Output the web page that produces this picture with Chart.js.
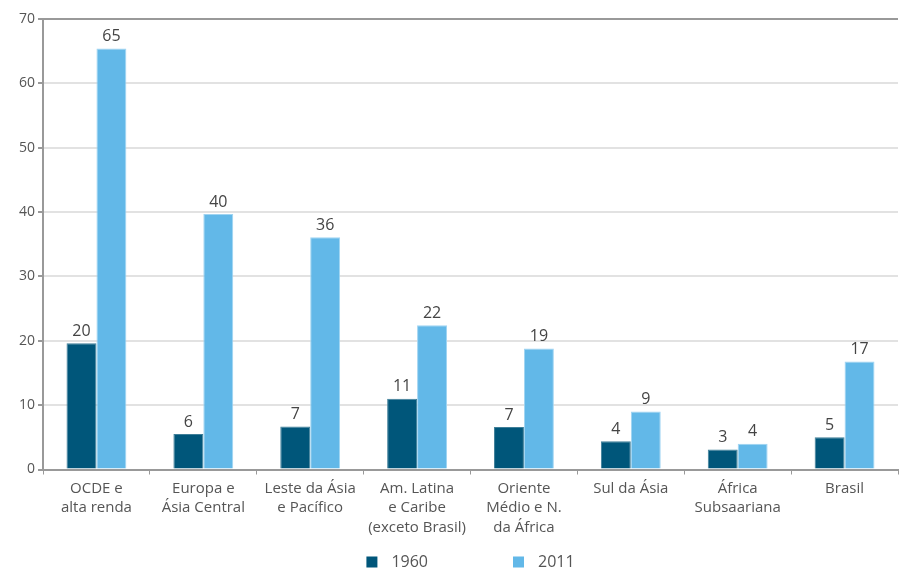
<!DOCTYPE html>
<html>
<head>
<meta charset="utf-8">
<script src="https://cdn.jsdelivr.net/npm/chart.js@4/dist/chart.umd.min.js"></script>
<style>
  html, body { margin: 0; padding: 0; background: #fff; }
  #wrap { width: 899px; height: 569px; }
</style>
</head>
<body>
<div id="wrap"><canvas id="mainChart"></canvas></div>
<script>
// data
var regions = [
  ["OCDE e", "alta renda"],
  ["Europa e", "Ásia Central"],
  ["Leste da Ásia", "e Pacífico"],
  ["Am. Latina", "e Caribe", "(exceto Brasil)"],
  ["Oriente", "Médio e N.", "da África"],
  ["Sul da Ásia"],
  ["África", "Subsaariana"],
  ["Brasil"]
];
var years = ["1960", "2011"];
var values1960 = [19.6, 5.5, 6.7, 11.0, 6.6, 4.4, 3.1, 5.0];
var values2011 = [65.4, 39.7, 36.1, 22.4, 18.8, 9.0, 4.0, 16.8];
var yTicks = [0, 10, 20, 30, 40, 50, 60, 70];

var fontFamily = "'Open Sans', 'DejaVu Sans', sans-serif";
var textColor = '#555';

// numbers above each bar
var valueLabels = {
  id: 'valueLabels',
  afterDatasetsDraw: function(chart) {
    var ctx = chart.ctx;
    ctx.save();
    ctx.font = '16px ' + fontFamily;
    ctx.fillStyle = '#444';
    ctx.textAlign = 'center';
    ctx.textBaseline = 'bottom';
    chart.data.datasets.forEach(function(ds, i) {
      chart.getDatasetMeta(i).data.forEach(function(bar, j) {
        ctx.fillText(Math.round(ds.data[j]), bar.x, bar.y - 4);
      });
    });
    ctx.restore();
  }
};

// legend drawn at the bottom, wide gap between the two items
var bottomLegend = {
  id: 'bottomLegend',
  afterDraw: function(chart) {
    var ctx = chart.ctx;
    var area = chart.chartArea;
    var box = 11, gapText = 14, gapItem = 85;
    ctx.save();
    ctx.font = '16px ' + fontFamily;
    ctx.textBaseline = 'middle';
    var widths = chart.data.datasets.map(function(ds) {
      return box + gapText + ctx.measureText(ds.label).width;
    });
    var total = widths.reduce(function(a, b) { return a + b; }, 0) + gapItem * (widths.length - 1);
    var x = (area.left + area.right) / 2 - total / 2;
    var y = 562;
    chart.data.datasets.forEach(function(ds, i) {
      ctx.fillStyle = ds.backgroundColor;
      ctx.fillRect(x, y - box / 2, box, box);
      ctx.fillStyle = textColor;
      ctx.fillText(ds.label, x + box + gapText, y);
      x += widths[i] + gapItem;
    });
    ctx.restore();
  }
};

var ctx = document.getElementById('mainChart').getContext('2d');
var chart = new Chart(ctx, {
  type: 'bar',
  data: {
    labels: regions,
    datasets: [{
      label: years[0],
      data: values1960,
      backgroundColor: '#00567a',
      borderColor: '#3f7f99',
      borderWidth: 1,
      barPercentage: 1,
      categoryPercentage: 0.56
    }, {
      label: years[1],
      data: values2011,
      backgroundColor: '#62b8e8',
      borderColor: '#9fd4f2',
      borderWidth: 1,
      barPercentage: 1,
      categoryPercentage: 0.56
    }]
  },
  options: {
    responsive: true,
    maintainAspectRatio: false,
    animation: false,
    layout: { padding: { left: 16, right: 1, top: 19, bottom: 28 } },
    plugins: {
      legend: { display: false },
      tooltip: { enabled: false }
    },
    scales: {
      x: {
        offset: true,
        border: { color: '#999', width: 2 },
        grid: { display: true, drawOnChartArea: false, drawTicks: true, tickLength: 5, color: '#999', offset: true },
        ticks: {
          color: textColor,
          font: { family: fontFamily, size: 15, lineHeight: 1.3 },
          maxRotation: 0,
          autoSkip: false,
          padding: 4
        }
      },
      y: {
        min: 0,
        max: 70,
        afterBuildTicks: function(axis) {
          axis.ticks = yTicks.map(function(v) { return { value: v }; });
        },
        border: { color: '#999', width: 2 },
        grid: {
          color: function(c) { return c.tick && c.tick.value === 70 ? '#999' : '#e2e2e2'; },
          lineWidth: 2,
          tickLength: 5,
          tickColor: '#999'
        },
        ticks: {
          color: textColor,
          font: { family: fontFamily, size: 14 },
          padding: 3
        }
      }
    }
  },
  plugins: [valueLabels, bottomLegend]
});
</script>
</body>
</html>
